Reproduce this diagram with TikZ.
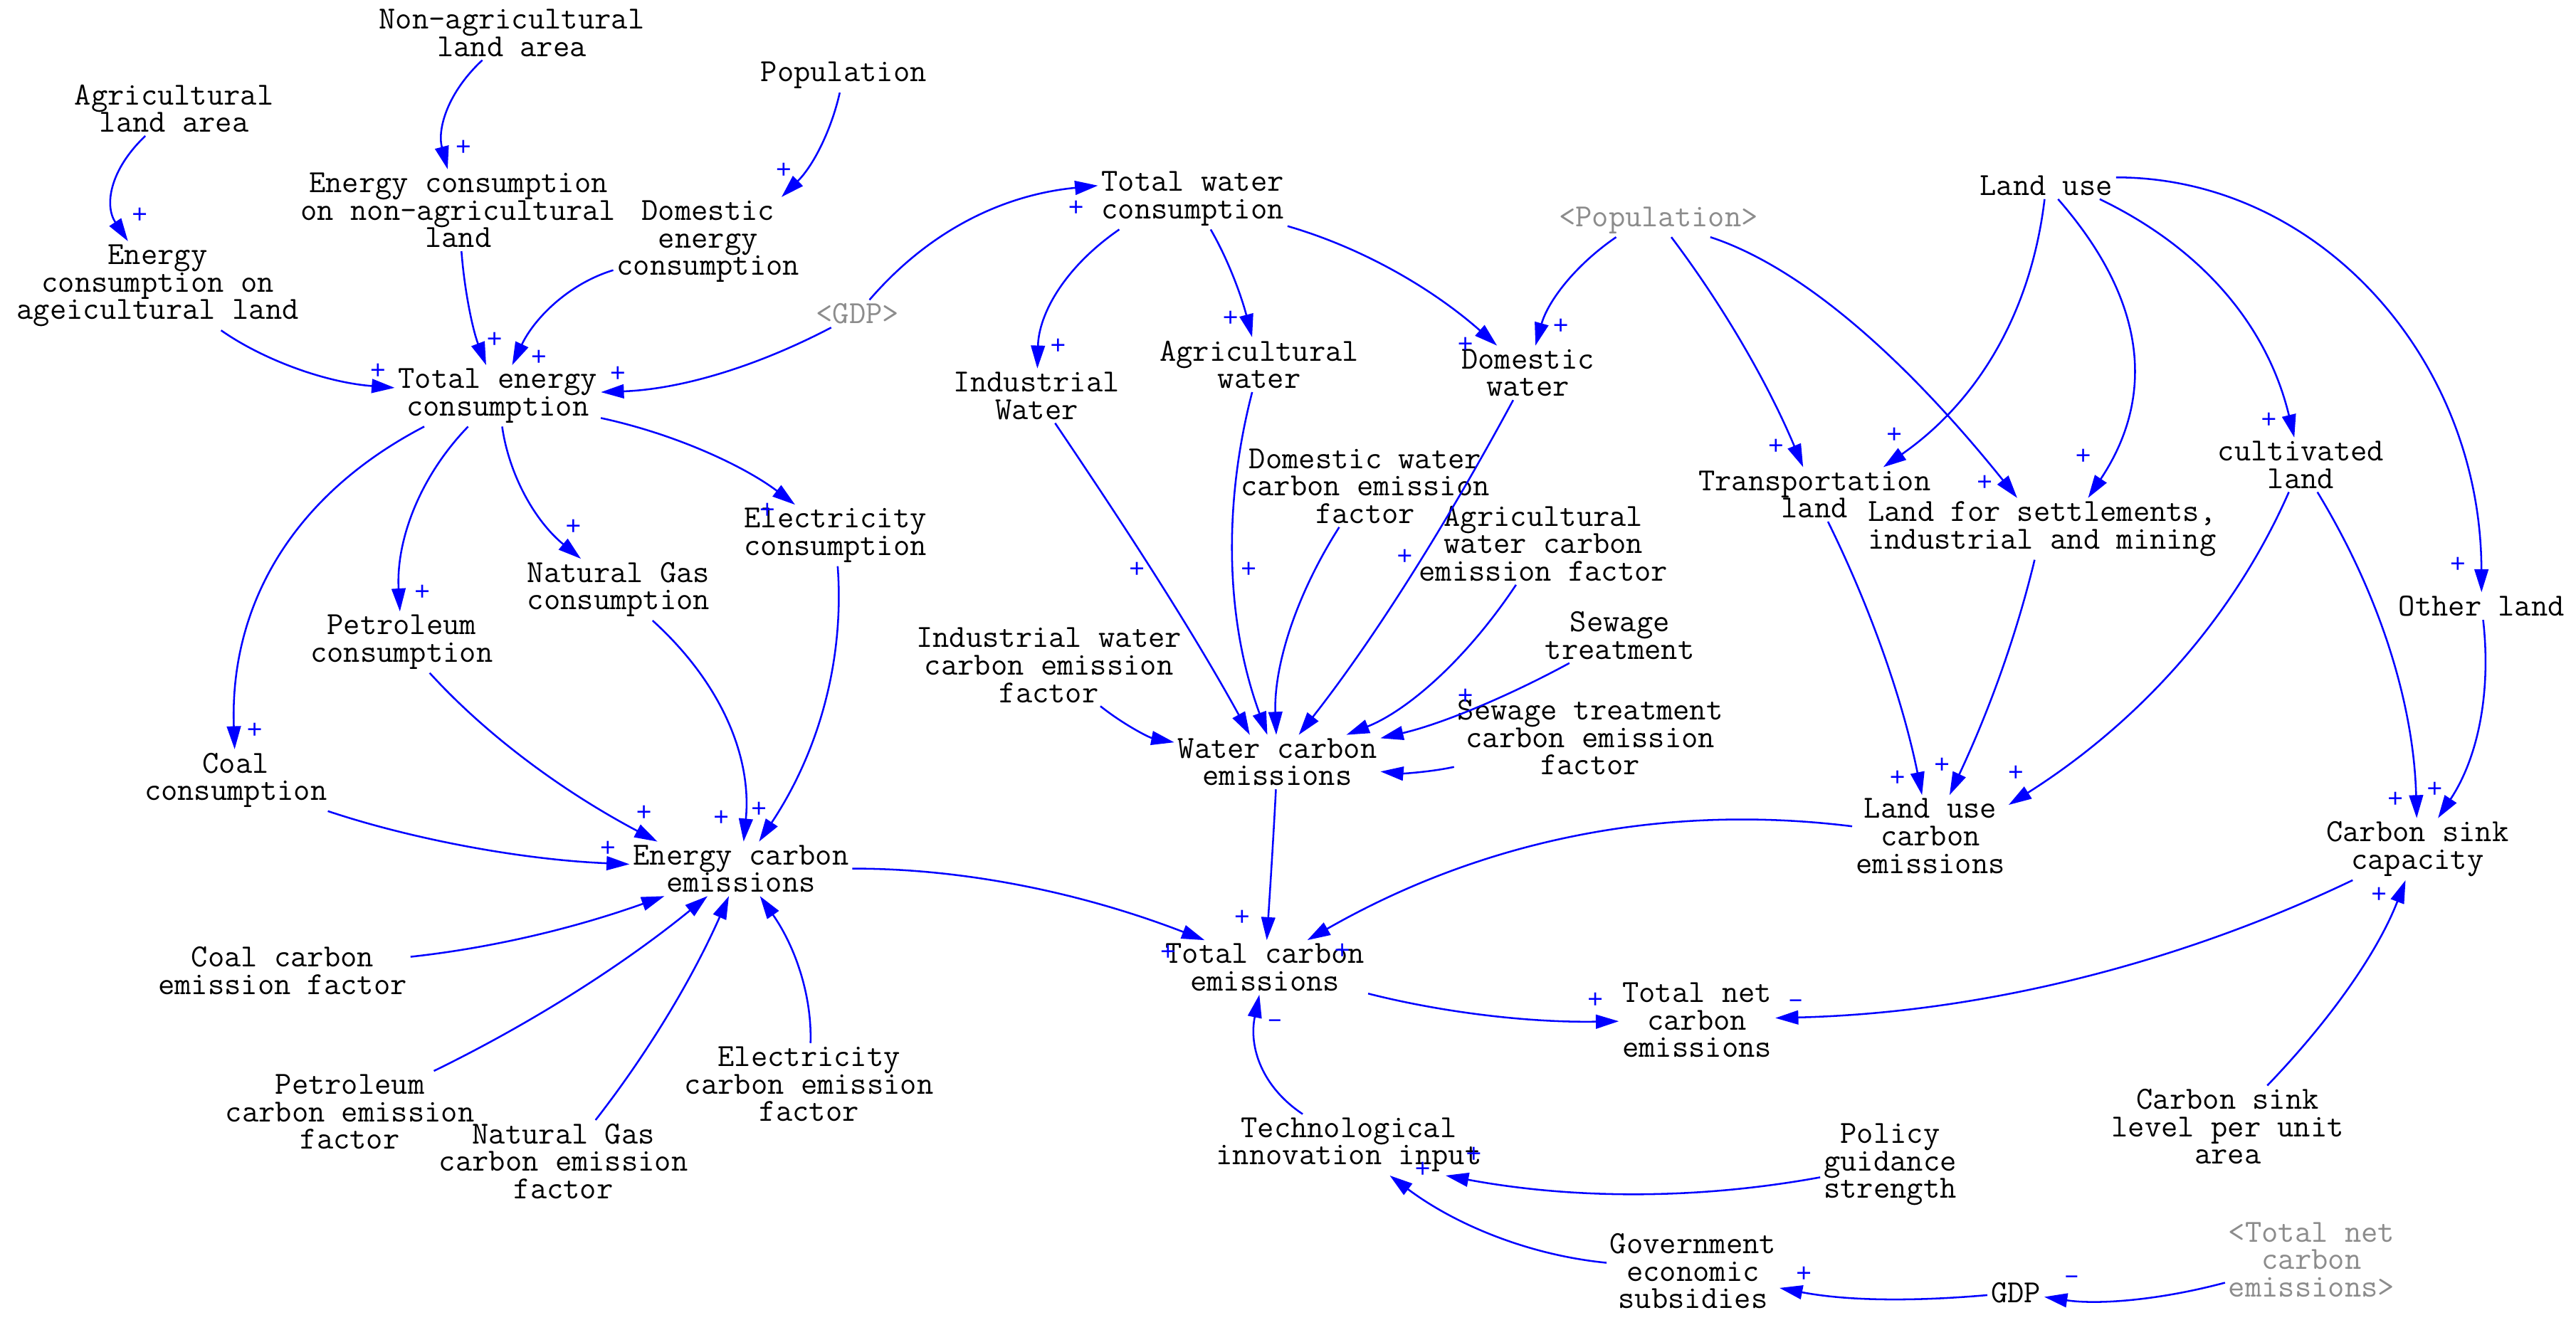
\documentclass[tikz,border=0pt]{standalone}
\usepackage{fontspec}
\newfontfamily\pfont{Liberation Mono}
\usetikzlibrary{arrows.meta}
\begin{document}
\begin{tikzpicture}[x=1pt,y=-1pt,
  var/.style={font=\ttfamily\fontsize{19.6}{16.7}\selectfont, align=center, inner sep=2pt, text=black},
  shadowvar/.style={var, text=black!45},
  pol/.style={font=\pfont\fontsize{16}{16}\selectfont, text=blue, inner sep=0pt},
  arr/.style={draw=blue, line width=1.1pt, -{Triangle[length=14pt,width=8.5pt]}}]
\fill[white] (0,0) rectangle (1568,809.35);
\useasboundingbox (0,0) rectangle (1568,809.35);

% ---------------- nodes ----------------
\node[var] (agl) at (106,66) {Agricultural\\land area};
\node[var] (nal) at (311.5,20) {Non-agricultural\\land area};
\node[var] (pop) at (513.5,46) {Population};
\node[var] (nae) at (279,128) {Energy consumption\\on non-agricultural\\land};
\node[var] (dome) at (431,147) {Domestic\\energy\\consumption};
\node[var] (age) at (96,174) {Energy\\consumption on\\ageicultural land};
\node[var] (te) at (303,241) {Total energy\\consumption};
\node[shadowvar] (gdp2) at (522,191) {<GDP>};
\node[var] (tw) at (726,121) {Total water\\consumption};
\node[shadowvar] (pop2) at (1009.5,134) {<Population>};
\node[var] (lu) at (1245.5,113) {Land use};
\node[var] (iw) at (631,241) {Industrial\\Water};
\node[var] (aw) at (766.5,222) {Agricultural\\water};
\node[var] (dw) at (930,227) {Domestic\\water};
\node[var] (tr) at (1104.5,301) {Transportation\\land};
\node[var] (ls) at (1243,322) {Land for settlements,\\industrial and mining};
\node[var] (cl) at (1400.5,283) {cultivated\\land};
\node[var] (ol) at (1510.5,369) {Other land};
\node[var] (dwcf) at (831,296) {Domestic water\\carbon emission\\factor};
\node[var] (awcf) at (939.5,331) {Agricultural\\water carbon\\emission factor};
\node[var] (ec) at (508.5,326) {Electricity\\consumption};
\node[var] (ngc) at (376.5,359) {Natural Gas\\consumption};
\node[var] (pc) at (244.5,391) {Petroleum\\consumption};
\node[var] (st) at (986,387) {Sewage\\treatment};
\node[var] (iwcf) at (638.5,405) {Industrial water\\carbon emission\\factor};
\node[var] (stcf) at (968,449) {Sewage treatment\\carbon emission\\factor};
\node[var] (wce) at (777.5,464) {Water carbon\\emissions};
\node[var] (cc) at (143.5,475) {Coal\\consumption};
\node[var] (luce) at (1175,509) {Land use\\carbon\\emissions};
\node[var] (csc) at (1471.5,517) {Carbon sink\\capacity};
\node[var] (ece) at (451,529) {Energy carbon\\emissions};
\node[var] (tce) at (770,589) {Total carbon\\emissions};
\node[var] (ccf) at (172,591) {Coal carbon\\emission factor};
\node[var] (tnce) at (1033,621) {Total net\\carbon\\emissions};
\node[var] (ecf) at (492.5,660) {Electricity\\carbon emission\\factor};
\node[var] (pcf) at (213,677) {Petroleum\\carbon emission\\factor};
\node[var] (ngcf) at (343,707) {Natural Gas\\carbon emission\\factor};
\node[var] (csl) at (1356,686) {Carbon sink\\level per unit\\area};
\node[var] (tec) at (821,697) {Technological\\innovation input};
\node[var] (pgs) at (1150.5,709) {Policy\\guidance\\strength};
\node[var] (ges) at (1030.5,774) {Government\\economic\\subsidies};
\node[var] (gdp) at (1227,787) {GDP};
\node[shadowvar] (tnce2) at (1407,767) {<Total net\\carbon\\emissions>};

% ---------------- connectors ----------------
\draw[arr] (agl) .. controls (66.5,103.7) and (63.5,125.3) .. (age);
\draw[arr] (nal) .. controls (272.7,56) and (266,78.3) .. (nae);
\draw[arr] (pop) .. controls (506,79.3) and (495,101) .. ([xshift=-13pt]dome.north east);
\draw[arr] (nae) .. controls (282.7,177) and (287.7,200.7) .. (te);
\draw[arr] (dome) .. controls (345.3,173) and (324.7,194.7) .. (te);
\draw[arr] (age) .. controls (159,218.3) and (196.7,232.7) .. (te);
\draw[arr] (gdp2) .. controls (461,223) and (414.7,237) .. (te);
\draw[arr] (gdp2) .. controls (565,141) and (609.7,118.7) .. ([yshift=8pt]tw.west);
\draw[arr] ([xshift=13pt]tw.south west) .. controls (648,162.7) and (632.3,191) .. (iw);
\draw[arr] (tw) .. controls (747,157) and (755.3,179) .. (aw);
\draw[arr] (tw) .. controls (829.7,151) and (872.3,176) .. (dw);
\draw[arr] ([xshift=37pt]pop2.south west) .. controls (958,162) and (942,184) .. (dw);
\draw[arr] (pop2) .. controls (1050,187.7) and (1076.7,234.7) .. (tr);
\draw[arr] (pop2) .. controls (1092.7,161.3) and (1154.3,211.7) .. (ls);
\draw[arr] (lu) .. controls (1236.3,190) and (1204.3,244) .. ([xshift=-31pt]tr.north east);
\draw[arr] (lu) .. controls (1307,183.3) and (1312,241.7) .. ([xshift=28pt]ls.north);
\draw[arr] ([xshift=-10pt]lu.south east) .. controls (1341.3,151.7) and (1380.3,199) .. (cl);
\draw[arr] ([yshift=5pt]lu.east) .. controls (1411,108) and (1510,218) .. (ol);
\draw[arr] (tr) .. controls (1139.3,371.7) and (1158.3,427) .. (luce);
\draw[arr] (ls) .. controls (1227.7,385.3) and (1211.7,430.7) .. (luce);
\draw[arr] (cl) .. controls (1359.3,376.7) and (1301.7,440) .. ([yshift=-6pt]luce.north east);
\draw[arr] (cl) .. controls (1449.7,364) and (1469.3,430.3) .. (csc);
\draw[arr] (ol) .. controls (1516.3,420) and (1509,460.3) .. (csc);
\draw[arr] (csl) .. controls (1422.3,617) and (1448.7,576.3) .. (csc);
\draw[arr] (csc) .. controls (1325.3,587) and (1205.7,616.7) .. (tnce);
\draw[arr] (tce) .. controls (879,616.7) and (931.7,622.7) .. (tnce);
\draw[arr] (ece) .. controls (588,528.7) and (659.7,544) .. ([xshift=26pt]tce.north west);
\draw[arr] (wce) .. controls (775,512) and (773,543) .. (tce);
\draw[arr] (luce) .. controls (1011.3,488.7) and (901.3,512) .. ([xshift=-37pt]tce.north east);
\draw[arr] (tec) .. controls (768,661.7) and (760,637.3) .. (tce);
\draw[arr] (pgs) .. controls (1032,730.7) and (956.3,730) .. ([xshift=-24pt]tec.south east);
\draw[arr] (ges) .. controls (931.7,764.3) and (886.7,746.3) .. (tec);
\draw[arr] (gdp) .. controls (1166.7,792.3) and (1125.3,792.3) .. (ges);
\draw[arr] (tnce2) .. controls (1311.7,792.3) and (1275.3,794.3) .. (gdp);
\draw[arr] ([xshift=18pt]te.south west) .. controls (178.3,301.3) and (139.7,368.3) .. (cc);
\draw[arr] (te) .. controls (254.7,291) and (241,330) .. (pc);
\draw[arr] (te) .. controls (309.7,288.3) and (325,316.7) .. (ngc);
\draw[arr] (te) .. controls (413,264.7) and (454.3,284.7) .. (ec);
\draw[arr] (cc) .. controls (247.7,510) and (314.7,523.3) .. (ece);
\draw[arr] (pc) .. controls (296.7,448.3) and (343.3,482.3) .. ([xshift=17pt]ece.north west);
\draw[arr] (ngc) .. controls (439.3,416) and (457.7,461) .. (ece);
\draw[arr] (ec) .. controls (514,400.3) and (499.3,456.3) .. (ece);
\draw[arr] (ccf) .. controls (298,577.3) and (348,565.7) .. (ece);
\draw[arr] (pcf) .. controls (323,623.3) and (378.7,588) .. (ece);
\draw[arr] (ngcf) .. controls (395.7,639.3) and (422.3,594) .. (ece);
\draw[arr] (ecf) .. controls (494.3,607.3) and (484.7,577.3) .. (ece);
\draw[arr] (iw) .. controls (683,318) and (724,380.7) .. ([xshift=46pt]wce.north west);
\draw[arr] (aw) .. controls (743.7,310.3) and (746.7,380) .. (wce);
\draw[arr] (dwcf) .. controls (787,365.3) and (775.3,408) .. (wce);
\draw[arr] (dw) .. controls (877.7,324) and (834.3,391.7) .. (wce);
\draw[arr] (awcf) .. controls (891.7,402.7) and (856,433) .. (wce);
\draw[arr] (st) .. controls (916.7,424.7) and (876.7,441) .. (wce);
\draw[arr] (stcf) .. controls (871,470) and (854,471) .. (wce);
\draw[arr] (iwcf) .. controls (683.7,441) and (699.3,449) .. (wce);

% ---------------- polarities ----------------
\node[pol] (s1) at (85,131) {+};
\node[pol] (s2) at (282,90) {+};
\node[pol] (s3) at (477,104) {+};
\node[pol] (s4) at (301,207) {+};
\node[pol] (s5) at (328,218) {+};
\node[pol] (s6) at (230,226) {+};
\node[pol] (s7) at (376,228) {+};
\node[pol] (s8) at (655,127) {+};
\node[pol] (s9) at (644,211) {+};
\node[pol] (s10) at (749,194) {+};
\node[pol] (s11) at (892,210) {+};
\node[pol] (s12) at (950,199) {+};
\node[pol] (s13) at (1081,272) {+};
\node[pol] (s14) at (1208,294) {+};
\node[pol] (s15) at (1153,265) {+};
\node[pol] (s16) at (1268,278) {+};
\node[pol] (s17) at (1381,256) {+};
\node[pol] (s18) at (1496,344) {+};
\node[pol] (s19) at (1155,474) {+};
\node[pol] (s20) at (1182,466) {+};
\node[pol] (s21) at (1227,471) {+};
\node[pol] (s22) at (1458,487) {+};
\node[pol] (s23) at (1482,481) {+};
\node[pol] (s24) at (1448,545) {+};
\node[pol] (s25) at (1093,611) {–};
\node[pol] (s26) at (971,609) {+};
\node[pol] (s27) at (711,580) {+};
\node[pol] (s28) at (756,559) {+};
\node[pol] (s29) at (817,579) {+};
\node[pol] (s30) at (776,623) {–};
\node[pol] (s31) at (897,703) {+};
\node[pol] (s32) at (866,712) {+};
\node[pol] (s33) at (1098,776) {+};
\node[pol] (s34) at (1261,779) {–};
\node[pol] (s35) at (155,445) {+};
\node[pol] (s36) at (257,361) {+};
\node[pol] (s37) at (349,321) {+};
\node[pol] (s38) at (467,311) {+};
\node[pol] (s39) at (370,517) {+};
\node[pol] (s40) at (392,495) {+};
\node[pol] (s41) at (439,498) {+};
\node[pol] (s42) at (462,493) {+};
\node[pol] (s47) at (692,347) {+};
\node[pol] (s48) at (760,347) {+};
\node[pol] (s50) at (855,339) {+};
\node[pol] (s52) at (892,424) {+};
\end{tikzpicture}
\end{document}
